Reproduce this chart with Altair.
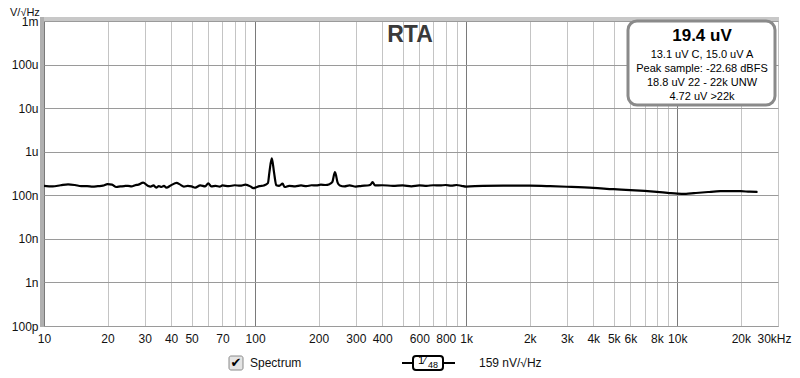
import altair as alt
import pandas as pd

# ---- data ----
freq_hz = [10, 11, 12, 13, 14, 15, 16, 17, 18, 19, 20, 21, 22, 23, 24, 25, 26, 27, 28, 29.5,
           31, 32, 33, 34, 35, 36, 37, 38, 40, 42.5, 44, 46, 48, 50, 52, 55, 58, 60, 62, 65,
           68, 70, 75, 80, 85, 90, 95, 98, 105, 110, 115, 117, 120, 123, 126, 130, 135, 138,
           145, 155, 165, 175, 185, 195, 205, 215, 225, 232, 239, 246, 252, 265, 280, 300,
           320, 340, 352, 360, 370, 400, 450, 500, 550, 600, 650, 700, 750, 800, 850, 900,
           950, 1000, 1200, 1500, 2000, 2500, 3000, 4000, 5000, 6000, 7000, 8000, 9000,
           10000, 11000, 12000, 14000, 16000, 18000, 20000, 22000, 24000]
level_nv = [165, 160, 170, 178, 172, 162, 163, 158, 162, 166, 180, 176, 155, 160, 163, 165, 160, 170, 176, 195,
            165, 158, 168, 150, 162, 155, 165, 150, 170, 192, 178, 158, 165, 160, 150, 168, 160, 188, 160, 165,
            158, 168, 162, 170, 166, 175, 160, 146, 162, 168, 190, 350, 700, 330, 170, 165, 185, 155,
            165, 160, 168, 162, 170, 168, 175, 172, 180, 200, 340, 195, 168, 160, 168, 158,
            165, 168, 175, 200, 168, 170, 165, 168, 160, 168, 165, 170, 168, 172, 166, 172,
            165, 158, 165, 166, 166, 162, 157, 148, 138, 132, 126, 120, 114,
            109, 108, 112, 119, 124, 125, 124, 121, 119]

x_ticks = [10, 20, 30, 40, 50, 60, 70, 80, 90,
           100, 200, 300, 400, 500, 600, 700, 800, 900,
           1000, 2000, 3000, 4000, 5000, 6000, 7000, 8000, 9000,
           10000, 20000, 30000]
x_label_vals = [10, 20, 30, 40, 50, 70, 100, 200, 300, 400, 600, 800, 1000, 2000, 3000,
                4000, 5000, 6000, 8000, 10000, 20000, 30000]
x_label_txt = ["10", "20", "30", "40", "50", "70", "100", "200", "300", "400", "600", "800",
               "1k", "2k", "3k", "4k", "5k", "6k", "8k", "10k", "20k", "30kHz"]
x_decades = [10, 100, 1000, 10000]

y_ticks = [1e-3, 1e-4, 1e-5, 1e-6, 1e-7, 1e-8, 1e-9, 1e-10]
y_label_txt = ["1m", "100u", "10u", "1u", "100n", "10n", "1n", "100p"]
y_unit = "V/√Hz"

box_lines = ["13.1 uV C, 15.0 uV A", "Peak sample: -22.68 dBFS",
             "18.8 uV 22 - 22k UNW", "4.72 uV >22k"]
box_head = "19.4 uV"

df = pd.DataFrame({"f": freq_hz, "v": [n * 1e-9 for n in level_nv]})
one = pd.DataFrame({"a": [0]})

FONT = "Liberation Sans"

x_expr = " : ".join(f"datum.value == {v} ? '{t}'" for v, t in zip(x_label_vals, x_label_txt)) + " : ''"
y_expr = " : ".join(f"datum.value > {t * 0.5} ? '{l}'" for t, l in zip(y_ticks, y_label_txt)) + " : ''"
major_test = " || ".join(f"datum.value == {d}" for d in x_decades)
last_test = f"datum.value == {x_label_vals[-1]}"

PAD_L, PAD_T = 36, 13
LEFT, TOP = 8 + PAD_L, 8 + PAD_T   # page position of the plot origin
W, H = 734, 305


def px(page_x):
    return page_x - LEFT


def py(page_y):
    return page_y - TOP


xscale = alt.Scale(type="log", domain=[10, 30000], nice=False)
yscale = alt.Scale(type="log", domain=[1e-10, 1e-3], nice=False)

line = alt.Chart(df).mark_line(color="black", strokeWidth=2.2, clip=True, interpolate="monotone").encode(
    x=alt.X("f:Q", scale=xscale,
            axis=alt.Axis(values=x_ticks, labelExpr=x_expr, title=None, domain=False, ticks=False,
                          labelPadding=7, labelFontSize=12, labelFont=FONT, labelColor="#111",
                          labelOverlap=False, labelFlush=False, labelBound=False,
                          labelAlign={"condition": {"test": last_test, "value": "left"}, "value": "center"},
                          labelOffset={"condition": {"test": last_test, "value": -21}, "value": 0},
                          gridColor={"condition": {"test": major_test, "value": "#7a7a7a"}, "value": "#c4c4c4"},
                          gridWidth=1)),
    y=alt.Y("v:Q", scale=yscale,
            axis=alt.Axis(values=y_ticks, labelExpr=y_expr, domain=False, ticks=False, title=None,
                          labelPadding=6, labelFontSize=12, labelFont=FONT, labelColor="#111",
                          labelOverlap=False, labelFlush=False, labelBound=False,
                          gridColor="#9a9a9a", gridWidth=1)),
)

unit_txt = alt.Chart(one).mark_text(text=y_unit, font=FONT, fontSize=11, color="#111",
                                    baseline="middle", align="left").encode(
    x=alt.value(px(10)), y=alt.value(py(12.5)))

# frame shading (left and top bars)
left_bar = alt.Chart(one).mark_rect(color="#b0b0b0").encode(
    x=alt.value(-4), x2=alt.value(0), y=alt.value(-4), y2=alt.value(H + 1))
top_bar = alt.Chart(one).mark_rect(color="#c8c8c8").encode(
    x=alt.value(0), x2=alt.value(W + 1), y=alt.value(-4), y2=alt.value(0))

title = alt.Chart(one).mark_text(text="RTA", font=FONT, fontSize=23, fontWeight="bold",
                                 color="#3a3a3a", baseline="middle", align="center").encode(
    x=alt.value(px(410)), y=alt.value(py(35)))

box = alt.Chart(one).mark_rect(fill="white", stroke="#8a8a8a", strokeWidth=3, cornerRadius=9).encode(
    x=alt.value(px(628)), x2=alt.value(px(775)), y=alt.value(py(21)), y2=alt.value(py(105)))
box_title = alt.Chart(one).mark_text(text=box_head, font=FONT, fontSize=17, fontWeight="bold",
                                     color="black", baseline="middle", align="center").encode(
    x=alt.value(px(702)), y=alt.value(py(36)))
box_txt = [
    alt.Chart(one).mark_text(text=t, font=FONT, fontSize=11, color="black",
                             baseline="middle", align="center").encode(
        x=alt.value(px(702)), y=alt.value(py(55 + 14 * i)))
    for i, t in enumerate(box_lines)
]

# bottom legend
chk = alt.Chart(one).mark_rect(fill="#e4e4e4", stroke="#8a8a8a", strokeWidth=1, cornerRadius=2).encode(
    x=alt.value(px(229)), x2=alt.value(px(243)), y=alt.value(py(356)), y2=alt.value(py(370)))
chk_mark = alt.Chart(one).mark_text(text="✔", font="DejaVu Sans", fontSize=13, color="black",
                                    baseline="middle", align="center").encode(
    x=alt.value(px(236)), y=alt.value(py(363)))
spec_txt = alt.Chart(one).mark_text(text="Spectrum", font=FONT, fontSize=12, color="#111",
                                    baseline="middle", align="left").encode(
    x=alt.value(px(250)), y=alt.value(py(363)))
leg_line1 = alt.Chart(one).mark_rule(color="black", strokeWidth=2).encode(
    x=alt.value(px(402)), x2=alt.value(px(413)), y=alt.value(py(363)))
leg_line2 = alt.Chart(one).mark_rule(color="black", strokeWidth=2).encode(
    x=alt.value(px(443)), x2=alt.value(px(455)), y=alt.value(py(363)))
leg_box = alt.Chart(one).mark_rect(fill="white", stroke="black", strokeWidth=2, cornerRadius=3).encode(
    x=alt.value(px(413)), x2=alt.value(px(443)), y=alt.value(py(356)), y2=alt.value(py(370)))
leg_num = alt.Chart(one).mark_text(text="1⁄", font=FONT, fontSize=11, color="black",
                                   baseline="middle", align="center").encode(
    x=alt.value(px(422)), y=alt.value(py(361)))
leg_den = alt.Chart(one).mark_text(text="48", font=FONT, fontSize=9, color="black",
                                   baseline="middle", align="center").encode(
    x=alt.value(px(433)), y=alt.value(py(365)))
leg_val = alt.Chart(one).mark_text(text="159 nV/√Hz", font=FONT, fontSize=12, color="#111",
                                   baseline="middle", align="left").encode(
    x=alt.value(px(479)), y=alt.value(py(363)))

chart = alt.layer(
    line, unit_txt, left_bar, top_bar, title, box, box_title, *box_txt,
    chk, chk_mark, spec_txt, leg_line1, leg_line2, leg_box, leg_num, leg_den, leg_val,
).properties(
    width=W, height=H,
    autosize=alt.AutoSizeParams(type="none"),
    padding={"left": PAD_L, "top": PAD_T, "right": 14, "bottom": 48},
    background="white",
).configure_view(stroke="#a0a0a0", strokeWidth=1)

chart.save("out.html", embed_options={"renderer": "svg", "actions": False})
